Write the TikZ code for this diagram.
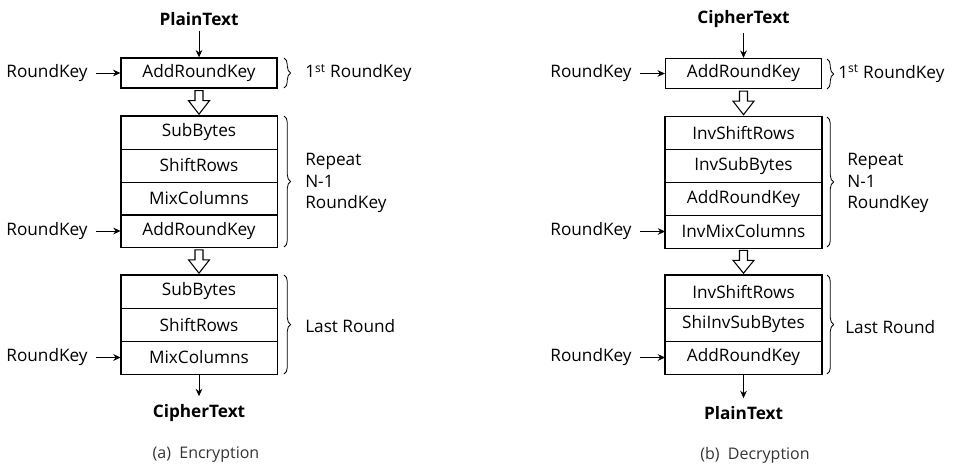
\documentclass[tikz,border=0pt]{standalone}
\usepackage{fontspec}
\setmainfont{Open Sans}
\usetikzlibrary{arrows.meta,decorations.pathreplacing,calc}
\newcommand\hollowarr[2]{\draw[hol] ($(#1.south)+(-4,2)$) -- ($(#1.south)+(4,2)$) -- ($(#1.south)+(4,12)$) -- ($(#1.south)+(10.5,12)$) -- ($(#2.north)+(0,-1.5)$) -- ($(#1.south)+(-10.5,12)$) -- ($(#1.south)+(-4,12)$) -- cycle;}
\begin{document}
\begin{tikzpicture}[x=0.75pt,y=-0.75pt,
  lbl/.style={font=\fontsize{12.9}{14}\selectfont, inner sep=0pt},
  bl/.style={font=\fontsize{12.9}{14}\selectfont\bfseries, inner sep=0pt},
  captxt/.style={font=\fontsize{12}{14}\selectfont, text=black!80, inner sep=0pt},
  side/.style={font=\fontsize{12.9}{16}\selectfont, inner sep=0pt, anchor=west, align=left},
  cell/.style={draw, line width=0.6pt, minimum width=117pt, minimum height=24.6pt, inner sep=0pt, font=\fontsize{12.9}{14}\selectfont},
  topcell/.style={cell, minimum height=22.5pt, line width=1pt},
  frame/.style={draw, line width=1pt},
  arr/.style={-{Stealth[length=5.5pt,width=5pt]}, line width=0.6pt},
  hol/.style={draw, line width=0.8pt, fill=white, line join=miter},
  br/.style={decorate, decoration={brace, amplitude=5pt}, line width=0.6pt},
]
\useasboundingbox (0,0) rectangle (955,464);

% ---------- (a) Encryption ----------
\node[bl] (pt) at (199,19) {PlainText};
\node[topcell] (a0) at (199,73) {AddRoundKey};
\node[cell] (a1) at (199,132.5) {SubBytes};
\node[cell] (a2) at (199,165.5) {ShiftRows};
\node[cell] (a3) at (199,198.5) {MixColumns};
\node[cell] (a4) at (199,231) {AddRoundKey};
\draw[frame] (a1.north west) rectangle (a4.south east);
\node[cell] (a5) at (199,291.5) {SubBytes};
\node[cell] (a6) at (199,324.5) {ShiftRows};
\node[cell] (a7) at (199,357.5) {MixColumns};
\draw[frame] (a5.north west) rectangle (a7.south east);
\node[bl] (ct) at (199,413) {CipherText};

\node[lbl] (ka0) at (47,73) {RoundKey};
\node[lbl] (ka1) at (47,231) {RoundKey};
\node[lbl] (ka2) at (47,357.5) {RoundKey};
\draw[arr] ([xshift=6pt]ka0.east) -- (a0.west);
\draw[arr] ([xshift=6pt]ka1.east) -- (a4.west);
\draw[arr] ([xshift=6pt]ka2.east) -- (a7.west);

\draw[arr] ([yshift=-4pt]pt.south) -- (a0.north);
\draw[arr] (a7.south) -- ([yshift=6pt]ct.north);
\hollowarr{a0}{a1}
\hollowarr{a4}{a5}

\draw[br] (284,58) -- (284,88);
\draw[br] (284,116) -- (284,247);
\draw[br] (284,275) -- (284,374);
\node[side] (ta0) at (305,73) {1\textsuperscript{st} RoundKey};
\node[side] (ta1) at (305,183) {Repeat\\N-1\\RoundKey};
\node[side] (ta2) at (305,326) {Last Round};

\node[captxt] (capa) at (206,455) {(a)\ \ Encryption};

% ---------- (b) Decryption ----------
\node[bl] (ct2) at (743.5,19) {CipherText};
\node[topcell] (b0) at (743.5,73.5) {AddRoundKey};
\node[cell] (b1) at (743.5,133) {InvShiftRows};
\node[cell] (b2) at (743.5,166) {InvSubBytes};
\node[cell] (b3) at (743.5,199) {AddRoundKey};
\node[cell] (b4) at (743.5,231.5) {InvMixColumns};
\draw[frame] (b1.north west) rectangle (b4.south east);
\node[cell] (b5) at (743.5,291.5) {InvShiftRows};
\node[cell] (b6) at (743.5,324.5) {ShiInvSubBytes};
\node[cell] (b7) at (743.5,357.5) {AddRoundKey};
\draw[frame] (b5.north west) rectangle (b7.south east);
\node[bl] (pt2) at (743.5,413) {PlainText};

\node[lbl] (kb0) at (591,73.5) {RoundKey};
\node[lbl] (kb1) at (591,231.5) {RoundKey};
\node[lbl] (kb2) at (591,357.5) {RoundKey};
\draw[arr] ([xshift=6pt]kb0.east) -- (b0.west);
\draw[arr] ([xshift=6pt]kb1.east) -- (b4.west);
\draw[arr] ([xshift=6pt]kb2.east) -- (b7.west);

\draw[arr] ([yshift=-4pt]ct2.south) -- (b0.north);
\draw[arr] (b7.south) -- ([yshift=6pt]pt2.north);
\hollowarr{b0}{b1}
\hollowarr{b4}{b5}

\draw[br] (827,59) -- (827,89);
\draw[br] (827,117) -- (827,247);
\draw[br] (827,275) -- (827,374);
\node[side] (tb0) at (838,73.5) {1\textsuperscript{st} RoundKey};
\node[side] (tb1) at (847,183) {Repeat\\N-1\\RoundKey};
\node[side] (tb2) at (845,327) {Last Round};

\node[captxt] (capb) at (755,455) {(b)\ \ Decryption};
\end{tikzpicture}
\end{document}
